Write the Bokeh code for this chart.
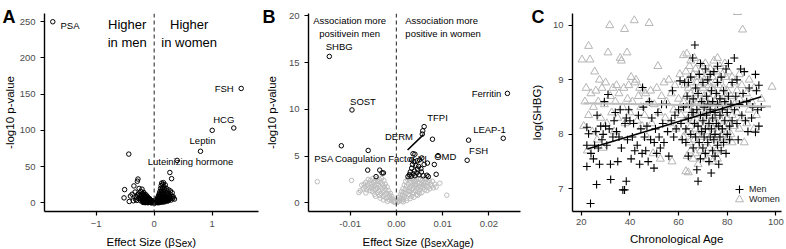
from bokeh.plotting import figure
from bokeh.layouts import row
from bokeh.models import Span, Range1d, FixedTicker, Legend, LegendItem, GridBox
from bokeh.embed import file_html
from bokeh.resources import INLINE
from bokeh.core.properties import value

FONT = "Liberation Sans"
TICK_COLOR = "#4d4d4d"

# ---------------- Panel A data ----------------
a_xticks = [-1, 0, 1]
a_yticks = [0, 50, 100, 150, 200, 250]
a_top_x = [-1.748, 1.50, 1.00, 1.372, 0.798, 0.396, -0.438]
a_top_y = [250, 158, 100.2, 103.4, 71.3, 58.7, 67.4]
a_cluster = [(-0.52, 7.0), (-0.51, 18.4), (-0.43, 2.0), (-0.41, 9.5), (-0.38, 12.0), (-0.35, 23.5),
             (-0.33, 15.0), (-0.31, 8.0), (-0.30, 3.5), (-0.29, 30.0), (-0.28, 33.0), (-0.27, 12.5),
             (-0.26, 20.0), (-0.25, 10.5), (-0.24, 5.5), (-0.23, 16.0), (-0.22, 8.5), (-0.21, 19.0),
             (-0.20, 13.0), (-0.20, 4.0), (-0.19, 7.0), (-0.18, 14.5), (-0.18, 10.0), (-0.17, 2.0),
             (-0.16, 12.0), (-0.16, 5.0), (-0.15, 8.5), (-0.14, 11.0), (-0.14, 3.0), (-0.13, 6.0),
             (-0.12, 9.0), (-0.12, 1.5), (-0.11, 4.0), (-0.10, 7.0), (-0.10, 2.0), (-0.09, 5.0),
             (-0.09, 0.8), (-0.08, 3.0), (-0.08, 6.0), (-0.07, 1.5), (-0.07, 4.0), (-0.06, 2.5),
             (-0.06, 0.5), (-0.05, 3.5), (-0.05, 1.0), (-0.04, 2.0), (-0.04, 0.3), (-0.03, 1.5),
             (-0.03, 3.0), (-0.02, 0.8), (-0.02, 2.0), (-0.01, 0.3), (-0.01, 1.2), (-0.015, 0.6),
             (-0.025, 1.0), (-0.035, 0.5), (-0.045, 1.5), (-0.055, 2.0), (-0.065, 3.0), (-0.075, 2.5),
             (-0.085, 1.5), (-0.095, 3.5), (-0.105, 5.5), (-0.115, 2.5), (-0.125, 4.5), (-0.135, 7.5),
             (-0.145, 5.0), (-0.155, 9.5), (-0.165, 3.5), (-0.175, 6.5), (-0.185, 11.5), (-0.195, 2.5),
             (-0.21, 6.0), (-0.225, 12.0), (-0.235, 3.0), (-0.245, 8.0), (-0.27, 6.0), (-0.29, 11.0),
             (-0.32, 5.0), (-0.36, 3.0),
             (-0.195, 0.8), (-0.185, 1.8), (-0.175, 0.6), (-0.165, 1.2), (-0.155, 2.6), (-0.15, 0.4),
             (-0.14, 1.8), (-0.13, 0.9), (-0.125, 2.8), (-0.115, 1.0), (-0.11, 0.4), (-0.105, 1.6),
             (-0.095, 0.6), (-0.085, 2.4), (-0.075, 0.9), (-0.065, 1.2), (-0.055, 0.4), (-0.045, 2.6),
             (-0.035, 1.6), (-0.025, 2.6), (-0.015, 1.8), (-0.005, 0.9),
             (0.005, 0.2), (0.01, 0.6), (0.01, 1.5), (0.015, 0.4), (0.02, 0.9), (0.02, 2.2),
             (0.025, 1.4), (0.03, 0.6), (0.03, 3.0), (0.035, 2.0), (0.04, 1.0), (0.04, 4.0),
             (0.045, 2.8), (0.05, 1.5), (0.05, 5.5), (0.055, 3.5), (0.06, 2.0), (0.06, 7.0),
             (0.065, 4.5), (0.07, 1.2), (0.07, 9.0), (0.075, 5.5), (0.08, 2.5), (0.08, 11.0),
             (0.085, 7.0), (0.09, 3.5), (0.09, 13.5), (0.095, 8.5), (0.10, 2.0), (0.10, 5.5),
             (0.10, 16.0), (0.105, 10.5), (0.11, 4.0), (0.11, 20.0), (0.115, 7.5), (0.12, 12.5),
             (0.12, 2.5), (0.12, 24.0), (0.125, 17.0), (0.13, 5.5), (0.13, 9.5), (0.13, 27.5),
             (0.135, 14.0), (0.14, 3.5), (0.14, 20.5), (0.145, 7.0), (0.15, 11.0), (0.15, 25.5),
             (0.155, 16.5), (0.16, 4.5), (0.16, 28.0), (0.165, 9.0), (0.17, 13.5), (0.17, 22.0),
             (0.175, 6.0), (0.18, 18.5), (0.185, 10.5), (0.19, 3.0), (0.19, 25.0), (0.20, 14.0),
             (0.20, 7.5), (0.21, 20.0), (0.215, 11.5), (0.22, 5.0), (0.225, 16.5), (0.23, 8.5),
             (0.24, 13.0), (0.245, 3.5), (0.25, 18.0), (0.26, 9.5), (0.27, 42.0), (0.275, 6.0),
             (0.28, 16.5), (0.29, 11.0), (0.30, 33.5), (0.31, 14.0), (0.32, 6.0), (0.35, 5.3),
             (0.33, 8.5), (0.26, 5.0), (0.23, 2.5), (0.18, 1.5), (0.14, 1.0), (0.085, 0.5), (0.065, 0.3),
             (0.005, 1.0), (0.015, 1.6), (0.025, 0.3), (0.035, 0.9), (0.045, 1.5), (0.055, 0.8),
             (0.065, 2.5), (0.075, 1.8), (0.085, 3.0), (0.095, 1.2), (0.105, 2.8), (0.115, 1.4),
             (0.125, 3.8), (0.135, 2.0), (0.145, 4.5), (0.155, 2.4), (0.165, 6.0), (0.175, 3.0),
             (0.185, 5.0), (0.195, 4.2), (0.205, 3.0), (0.215, 6.5), (0.225, 4.0), (0.235, 6.0),
             (0.25, 7.0), (0.27, 8.0), (0.29, 4.0), (0.31, 9.0)]
a_lab_text = ["PSA", "FSH", "HCG", "Leptin", "Luteinizing hormone"]
a_lab_x = [-1.616, 1.371, 1.20, 0.833, 0.626]
a_lab_y = [244.7, 157.3, 115.6, 86.3, 57.4]
a_lab_align = ["left", "right", "center", "center", "center"]
a_head_text = ["Higher", "in men", "Higher", "in women"]
a_head_x = [-0.466, -0.466, 0.603, 0.603]
a_head_y = [245.7, 221.6, 245.7, 221.6]

# ---------------- Panel B data ----------------
b_xticks = [-0.01, 0.0, 0.01, 0.02]
b_xlabels = {-0.01: "-0.01", 0.0: "0.00", 0.01: "0.01", 0.02: "0.02"}
b_yticks = [0, 5, 10, 15, 20]
b_black = [(-0.0145, 15.65), (-0.0096, 9.93), (-0.0119, 6.1), (-0.0061, 5.6), (-0.0062, 3.5),
           (-0.0044, 2.8), (-0.0036, 3.5), (-0.0031, 3.2), (-0.0028, 3.2),
           (0.024, 11.7), (0.0231, 6.9), (0.0156, 6.7), (0.0153, 4.55), (0.006, 8.15), (0.0057, 7.7),
           (0.0056, 7.35), (0.0078, 6.8), (0.009, 5.05), (0.0086, 3.05), (0.0082, 4.1), (0.0067, 4.25),
           (0.0066, 2.95), (0.0069, 2.8), (0.0036, 5.25), (0.0040, 5.2), (0.0033, 4.6), (0.0038, 4.4),
           (0.0045, 4.5), (0.0050, 4.6), (0.0035, 4.1), (0.0042, 4.0), (0.0048, 3.9), (0.0033, 3.7),
           (0.0046, 3.6), (0.0053, 3.65), (0.0028, 3.0), (0.0032, 2.85), (0.0036, 3.1), (0.0040, 2.9),
           (0.0044, 3.2), (0.0049, 3.0), (0.0054, 3.3), (0.0058, 2.9), (0.0025, 2.8), (0.0030, 3.3),
           (0.0039, 3.4), (0.0055, 4.8), (0.0060, 4.1)]
b_grey = [(-0.0171, 2.26), (-0.0097, 2.4), (-0.0081, 1.1), (-0.0066, 1.06), (0.0094, 2.1), (0.0109, 0.82),
          (-0.0002, 0.05), (-0.0004, 0.2), (-0.0006, 0.1), (-0.0008, 0.4), (-0.0010, 0.25), (-0.0010, 0.7),
          (-0.0012, 0.5), (-0.0013, 1.0), (-0.0015, 0.3), (-0.0015, 0.8), (-0.0017, 1.3), (-0.0018, 0.6),
          (-0.0020, 1.0), (-0.0020, 1.7), (-0.0022, 0.45), (-0.0023, 1.4), (-0.0024, 2.0), (-0.0025, 0.9),
          (-0.0026, 1.7), (-0.0027, 2.4), (-0.0028, 1.2), (-0.0029, 0.7), (-0.0030, 2.0), (-0.0031, 1.5),
          (-0.0032, 2.6), (-0.0033, 1.0), (-0.0034, 2.2), (-0.0035, 1.7), (-0.0036, 0.8), (-0.0037, 2.5),
          (-0.0038, 1.3), (-0.0039, 1.9), (-0.0040, 2.3), (-0.0041, 1.1), (-0.0042, 1.6), (-0.0043, 2.6),
          (-0.0044, 2.0), (-0.0045, 1.4), (-0.0046, 2.4), (-0.0047, 0.9), (-0.0048, 1.8), (-0.0049, 2.2),
          (-0.0050, 1.5), (-0.0051, 2.6), (-0.0052, 1.2), (-0.0053, 2.0), (-0.0054, 1.7), (-0.0056, 2.4),
          (-0.0057, 1.3), (-0.0058, 2.1), (-0.0060, 1.6), (-0.0061, 2.5), (-0.0063, 1.9), (-0.0064, 1.4),
          (-0.0066, 2.2), (-0.0068, 1.7), (-0.0070, 2.0), (-0.0072, 1.5), (-0.0075, 1.9), (-0.0078, 1.3),
          (-0.0019, 0.15), (-0.0028, 0.3), (-0.0035, 0.5), (-0.0045, 0.7),
          (0.0002, 0.05), (0.0003, 0.3), (0.0005, 0.15), (0.0006, 0.6), (0.0008, 0.3), (0.0009, 0.9),
          (0.0010, 0.5), (0.0011, 1.2), (0.0012, 0.2), (0.0013, 0.8), (0.0014, 1.5), (0.0015, 0.4),
          (0.0016, 1.1), (0.0017, 1.9), (0.0018, 0.7), (0.0019, 1.4), (0.0020, 2.3), (0.0021, 1.0),
          (0.0022, 1.8), (0.0023, 0.5), (0.0024, 2.5), (0.0025, 1.3), (0.0026, 2.0), (0.0027, 0.9),
          (0.0028, 1.6), (0.0029, 2.6), (0.0030, 1.2), (0.0031, 2.2), (0.0032, 1.8), (0.0033, 0.7),
          (0.0034, 2.5), (0.0035, 1.5), (0.0036, 2.0), (0.0037, 1.1), (0.0038, 2.6), (0.0039, 1.7),
          (0.0040, 2.3), (0.0041, 1.3), (0.0042, 1.9), (0.0043, 2.5), (0.0044, 0.9), (0.0045, 1.6),
          (0.0046, 2.2), (0.0047, 1.2), (0.0048, 2.6), (0.0049, 1.8), (0.0050, 2.1), (0.0051, 1.4),
          (0.0052, 2.5), (0.0053, 1.7), (0.0054, 2.0), (0.0055, 1.1), (0.0056, 2.4), (0.0057, 1.6),
          (0.0058, 2.2), (0.0059, 1.9), (0.0060, 2.6), (0.0061, 1.4), (0.0062, 2.1), (0.0064, 1.8),
          (0.0065, 2.5), (0.0066, 1.3), (0.0068, 2.2), (0.0069, 1.7), (0.0071, 2.4), (0.0072, 1.5),
          (0.0074, 2.0), (0.0076, 1.8), (0.0078, 2.3), (0.0080, 1.6), (0.0083, 2.0), (0.0086, 1.7),
          (0.0015, 0.1), (0.0022, 0.25), (0.0030, 0.45), (0.0038, 0.6), (0.0046, 0.8), (0.0027, 1.25),
          (0.0035, 0.95), (0.0041, 2.0), (0.0050, 1.0)]
b_lab_text = ["SHBG", "SOST", "PSA", "Coagulation Factor XI", "DERM", "TFPI", "Ferritin", "LEAP-1", "FSH", "OMD"]
b_lab_x = [-0.01236, -0.00722, -0.01571, -0.00336, 0.00056, 0.0089, 0.01949, 0.02013, 0.01777, 0.01056]
b_lab_y = [16.72, 10.86, 4.76, 4.76, 7.06, 9.12, 11.69, 7.84, 5.62, 4.93]
b_head_text = ["Association more", "positivein men", "Association more", "positive in women"]
b_head_x = [-0.0101, -0.0101, 0.00977, 0.0101]
b_head_y = [19.45, 18.15, 19.45, 18.15]
b_seg = dict(x0=[0.00242], y0=[5.65], x1=[0.00585], y1=[7.29])

# ---------------- Panel C data ----------------
c_xticks = [20, 40, 60, 80, 100]
c_yticks = [7, 8, 9, 10]
c_men_young = [(22.3, 7.41), (23.8, 6.73), (22.3, 7.80), (23, 8.01), (22.3, 8.13), (26.3, 7.08), (24, 7.65),
               (25, 7.55), (25.5, 7.80), (26, 8.05), (26.5, 8.35), (27.5, 7.45), (27, 7.75), (28, 8.15),
               (28.5, 7.90), (29, 8.00), (29.5, 8.60), (30, 8.15), (30.5, 7.80), (31, 8.73), (31.5, 8.10),
               (32, 7.45), (32.1, 7.17), (33, 7.95), (33.5, 8.25), (34, 8.40), (34.5, 8.05), (35, 7.50),
               (35.5, 7.95), (36, 8.45), (36.5, 7.75), (37.1, 6.98), (37.8, 6.98), (38.5, 7.14), (38, 8.20),
               (38.5, 8.30), (39, 7.90), (39.5, 8.45), (40, 8.25), (40.5, 7.55), (41, 7.95), (41.5, 8.20),
               (42, 7.70), (43, 7.80), (43.5, 8.35), (44, 7.45), (44.5, 8.10), (45, 7.65), (45.2, 8.86),
               (45.5, 8.50), (46, 7.95), (46.5, 7.70), (47, 8.15), (47.5, 7.50), (48, 8.60), (48.5, 7.90),
               (49, 8.30), (49.9, 7.38), (50, 7.85), (50.5, 8.10), (51, 7.65), (51.5, 8.40), (52, 7.95),
               (52.5, 7.75), (53, 8.55), (53.5, 8.20), (54, 7.85), (55, 8.55), (55.5, 8.05), (56, 7.60),
               (57, 8.25), (57.5, 8.80), (58, 7.95), (58.5, 8.35), (59, 8.10), (60, 8.45), (60.6, 8.98),
               (61, 8.20), (61.5, 7.90)]
c_men_old = [(62, 8.50), (62.5, 8.95), (63, 8.10), (63, 7.85), (63.5, 8.70), (64, 8.30), (64, 7.60), (64.5, 8.55),
             (65, 8.00), (65, 9.05), (65.5, 8.40), (65.8, 9.40), (66, 7.75), (66, 8.65), (66.5, 8.20), (66.7, 9.64),
             (67, 7.95), (67, 8.85), (67.5, 8.45), (67.5, 7.35), (68, 7.14), (68, 8.15), (68, 8.75), (68.5, 7.85),
             (68.5, 9.10), (69, 8.35), (69, 7.55), (69.5, 8.60), (69.5, 8.05), (70, 7.75), (70, 8.95), (70, 8.25),
             (70.5, 8.50), (70.5, 7.95), (71, 9.20), (71, 8.10), (71, 7.65), (71.5, 8.70), (71.5, 8.35), (72, 7.85),
             (72, 8.55), (72, 9.00), (72.5, 8.20), (72.5, 7.50), (73, 8.45), (73, 7.95), (73.4, 7.29), (73.5, 8.80),
             (73.5, 8.10), (74, 7.70), (74, 8.60), (74, 8.30), (74.5, 9.15), (74.5, 7.90), (75, 8.40), (75, 8.00),
             (75, 7.60), (75.5, 8.75), (75.5, 8.20), (76, 7.80), (76, 8.55), (76, 8.95), (76.5, 8.15), (76.5, 7.45),
             (77, 8.65), (77, 8.35), (77, 7.95), (77.5, 9.05), (77.5, 7.70), (78, 8.45), (78, 8.10), (78.5, 8.80),
             (78.5, 7.85), (79, 8.25), (79, 8.60), (79.5, 9.20), (79.5, 7.65), (80, 8.40), (80, 8.00), (80.5, 8.70),
             (80.5, 9.30), (81, 8.15), (81, 7.90), (81.5, 8.55), (82, 8.95), (82, 8.25), (82.9, 9.40), (83, 8.45),
             (83.5, 8.70), (84, 9.00), (84, 8.20), (84.5, 7.90), (85, 8.55), (85.5, 9.20), (86, 8.35), (86.5, 8.75),
             (87, 9.15), (87.5, 8.25), (88, 8.60), (88.5, 8.05), (89, 8.85), (90, 8.30), (90.5, 8.50), (91.6, 9.10),
             (91.6, 8.04), (92, 8.80), (92.5, 8.45), (93, 8.15), (94, 8.50), (93, 8.90), (64, 8.95), (66, 8.40),
             (69, 9.30), (73, 9.10), (76, 9.25)]
c_women_young = [(20.3, 9.37), (21, 8.15), (21.5, 8.60), (22, 8.85), (22.5, 7.70), (23, 9.62), (23.6, 9.37),
                 (23, 8.35), (24, 8.75), (24.5, 8.05), (25, 8.50), (25.5, 9.15), (26, 8.80), (26.5, 7.90),
                 (27, 8.60), (27.5, 9.00), (28, 8.30), (28.5, 8.85), (29, 7.75), (29.5, 8.55), (30, 8.95),
                 (30.5, 8.20), (31, 9.50), (31.7, 10.0), (32, 8.70), (32.5, 8.40), (33, 8.85), (33.5, 8.05),
                 (34, 8.60), (34.5, 8.90), (35, 8.30), (35.5, 8.75), (36, 9.40), (36.5, 9.35), (37, 8.50),
                 (37.5, 8.85), (37.8, 9.93), (38, 8.20), (38.8, 9.50), (39, 8.65), (39.5, 8.90), (40, 8.40),
                 (40.5, 9.05), (41, 8.60), (41.8, 10.09), (42, 8.95), (42.5, 9.00), (43, 8.25), (43.5, 8.70),
                 (44, 8.85), (44.5, 8.50), (45, 8.15), (45.5, 8.80), (46, 8.35), (46.5, 8.75), (47, 7.95),
                 (47.9, 10.04), (48, 8.60), (48.5, 8.80), (49, 8.20), (49.5, 7.65), (50, 8.55), (51, 8.85),
                 (51.5, 9.25), (52, 8.40), (52.5, 7.55), (53, 8.70), (54, 8.95), (54.5, 8.30), (55, 8.60),
                 (56, 9.00), (56.5, 8.20), (57, 8.75), (57.3, 7.50), (58, 8.45), (58.5, 8.90), (59, 8.10),
                 (60, 8.65), (60.5, 9.10), (61, 8.35)]
c_women_old = [(62, 8.60), (62, 9.45), (62, 7.95), (62.5, 8.25), (62.5, 8.90), (63, 7.32), (63, 8.70), (63, 9.15),
               (63.4, 9.48), (63.5, 8.05), (63.5, 8.45), (63.5, 7.60), (64, 7.30), (64, 8.85), (64, 8.30), (64, 9.00),
               (64.5, 8.55), (64.5, 7.85), (64.5, 9.25), (65, 8.15), (65, 8.75), (65, 7.70), (65, 9.35), (65.5, 8.40),
               (65.5, 8.95), (65.5, 8.00), (66, 7.55), (66, 8.65), (66, 9.10), (66, 8.25), (66.5, 8.50), (66.5, 7.90),
               (66.5, 9.40), (67, 8.80), (67, 8.10), (67, 7.65), (67, 9.20), (67.5, 8.35), (67.5, 8.95), (67.5, 7.80),
               (68, 8.60), (68, 9.05), (68, 8.00), (68, 7.45), (68.5, 8.20), (68.5, 8.75), (68.5, 9.30), (69, 7.70),
               (69, 8.45), (69, 8.90), (69, 9.15), (69.5, 8.05), (69.5, 8.60), (69.5, 7.95), (70, 8.30), (70, 8.85),
               (70, 9.25), (70, 7.60), (70, 8.50), (70.5, 8.15), (70.5, 8.70), (70.5, 9.00), (71, 7.85), (71, 8.40),
               (71, 8.95), (71, 9.30), (71.5, 8.25), (71.5, 8.60), (71.5, 7.55), (72, 8.05), (72, 8.75), (72, 9.10),
               (72, 8.45), (72.5, 7.75), (72.5, 8.55), (72.5, 8.90), (73, 8.20), (73, 8.65), (73, 9.20), (73, 7.95),
               (73.5, 8.40), (73.5, 8.85), (73.5, 7.65), (74, 8.10), (74, 8.50), (74, 9.05), (74, 7.50), (74.5, 8.30),
               (74.5, 8.80), (74.5, 9.35), (75, 7.90), (75, 8.60), (75, 8.95), (75, 8.20), (75.5, 8.45), (75.5, 7.70),
               (75.5, 9.15), (76, 8.05), (76, 8.70), (76, 9.40), (76, 7.55), (76.5, 8.35), (76.5, 8.90), (76.5, 8.15),
               (77, 7.80), (77, 8.55), (77, 9.25), (77, 9.00), (77.5, 8.25), (77.5, 8.75), (77.5, 7.95), (78, 8.60),
               (78, 9.10), (78, 8.00), (78.5, 8.40), (78.5, 8.85), (78.5, 7.85), (79, 8.15), (79, 8.70), (79, 9.30),
               (79.5, 8.50), (79.5, 7.90), (79.5, 9.05), (80, 8.30), (80, 8.80), (80, 8.05), (80.5, 8.60), (80.5, 9.15),
               (80.5, 7.95), (81, 8.20), (81, 8.90), (81, 8.45), (81.5, 8.70), (81.5, 8.00), (82, 8.35), (82, 9.05),
               (82, 7.85), (83, 8.55), (83, 8.95), (83, 8.15), (84, 8.40), (84, 8.80), (84.2, 10.24), (85, 8.65),
               (85, 8.10), (85, 9.10), (86, 8.30), (86, 8.90), (86.3, 9.92), (87, 8.55), (87, 7.85), (88, 8.75),
               (88, 8.20), (89, 8.45), (89, 9.00), (90, 8.60), (91, 8.10), (91, 8.85), (92, 8.35), (94, 8.65),
               (98.4, 8.87)]
c_men_fit_age = [22.5, 94]
c_men_fit_val = [7.73, 8.69]
c_women_fit_age = [21, 98]
c_women_fit_val = [8.57, 8.51]

# texts that sit outside the plot frames (panel letters, x titles with subscripts)
ov_letters = ["A", "B", "C"]
ov_letter_x = [2, 262, 531]
ov_main_text = ["Effect Size (β", ")", "Effect Size (β", ")"]
ov_main_x = [106, 191.8, 362, 469.5]
ov_sub_text = ["Sex", "sexXage"]
ov_sub_x = [174.6, 430.6]


def xs(pts):
    return [p[0] for p in pts]


def ys(pts):
    return [p[1] for p in pts]


def make_fig(xr, yr, bl, br, bt, bb):
    p = figure(width=262, height=249, x_range=Range1d(*xr), y_range=Range1d(*yr),
               min_border_left=bl, min_border_right=br, min_border_top=bt, min_border_bottom=bb,
               output_backend="svg", toolbar_location=None)
    p.xgrid.visible = False
    p.ygrid.visible = False
    p.outline_line_color = None
    return p


def style(p, xticks, yticks, ytitle, ystandoff, xstandoff=5):
    for ax in (p.xaxis[0], p.yaxis[0]):
        ax.axis_line_color = "black"
        ax.axis_line_width = 1.4
        ax.major_tick_line_color = "black"
        ax.major_tick_line_width = 1.2
        ax.major_tick_out = 4
        ax.major_tick_in = 0
        ax.minor_tick_line_color = None
        ax.major_label_text_font = FONT
        ax.major_label_text_font_size = "9.5px"
        ax.major_label_text_color = TICK_COLOR
    p.xaxis.ticker = FixedTicker(ticks=xticks)
    p.yaxis.ticker = FixedTicker(ticks=yticks)
    p.xaxis.major_label_standoff = xstandoff
    p.yaxis.major_label_standoff = 5
    p.yaxis.axis_label = ytitle
    p.yaxis.axis_label_text_font = FONT
    p.yaxis.axis_label_text_font_size = "11.5px"
    p.yaxis.axis_label_text_font_style = "normal"
    p.yaxis.axis_label_text_color = "black"
    p.yaxis.axis_label_standoff = ystandoff


def texts(p, x, y, t, align, size="9.5px", color="black"):
    groups = {}
    for xi, yi, ti, ai in zip(x, y, t, align):
        groups.setdefault(ai, ([], [], []))
        groups[ai][0].append(xi)
        groups[ai][1].append(yi)
        groups[ai][2].append(ti)
    for ai, (gx, gy, gt) in groups.items():
        p.text(x=gx, y=gy, text=gt, text_font=value(FONT), text_font_size=size,
               text_align=ai, text_baseline="middle", text_color=color)


# ---------------- Panel A ----------------
pA = make_fig((-1.891, 1.798), (-11.8, 261.4), 44, 4, 4, 37)
style(pA, a_xticks, a_yticks, "-log10 p-value", 1)
pA.add_layout(Span(location=0, dimension="height", line_color="#444444", line_dash="4 3", line_width=1.2))
texts(pA, a_head_x, a_head_y, a_head_text, ["center"] * 4, size="13px")
texts(pA, a_lab_x, a_lab_y, a_lab_text, a_lab_align)
pA.scatter(xs(a_cluster), ys(a_cluster), marker="circle", size=4.5, fill_color=None,
           line_color="black", line_width=1.0)
pA.scatter(a_top_x, a_top_y, marker="circle", size=4.5, fill_color=None, line_color="black", line_width=1.0)

# ---------------- Panel B ----------------
pB = make_fig((-0.019, 0.02683), (-0.925, 20.24), 44, 4, 5, 38)
style(pB, b_xticks, b_yticks, "-log10 p-value", 8)
pB.xaxis.major_label_overrides = b_xlabels
pB.add_layout(Span(location=0, dimension="height", line_color="#444444", line_dash="4 3", line_width=1.2))
pB.scatter(xs(b_grey), ys(b_grey), marker="circle", size=4.5, fill_color=None,
           line_color="#bdbdbd", line_width=1.0)
texts(pB, b_head_x, b_head_y, b_head_text, ["center"] * 4)
texts(pB, b_lab_x, b_lab_y, b_lab_text, ["center"] * len(b_lab_text))
pB.segment(x0=b_seg["x0"], y0=b_seg["y0"], x1=b_seg["x1"], y1=b_seg["y1"], line_color="black", line_width=1.6)
pB.scatter(xs(b_black), ys(b_black), marker="circle", size=4.5, fill_color=None,
           line_color="black", line_width=1.0)

# ---------------- Panel C ----------------
pC = make_fig((16.4, 102.3), (6.584, 10.217), 48, 5, 13, 35)
style(pC, c_xticks, c_yticks, "log(SHBG)", 7, xstandoff=3)
pC.xaxis.axis_label = "Chronological Age"
pC.xaxis.axis_label_text_font = FONT
pC.xaxis.axis_label_text_font_size = "11.5px"
pC.xaxis.axis_label_text_font_style = "normal"
pC.xaxis.axis_label_text_color = "black"
pC.xaxis.axis_label_standoff = 5
w_r = pC.scatter(xs(c_women_young) + xs(c_women_old), ys(c_women_young) + ys(c_women_old),
                 marker="triangle", size=8, fill_color=None, line_color="#b5b5b5", line_width=1.0)
m_r = pC.scatter(xs(c_men_young) + xs(c_men_old), ys(c_men_young) + ys(c_men_old),
                 marker="cross", size=8, line_color="black", line_width=1.1)
pC.line(c_women_fit_age, c_women_fit_val, line_color="#bdbdbd", line_width=2)
pC.line(c_men_fit_age, c_men_fit_val, line_color="black", line_width=1.5)
for item, loc in ((LegendItem(label="Men", renderers=[m_r]), (157, 12.3)),
                  (LegendItem(label="Women", renderers=[w_r]), (157, 1.7))):
    leg = Legend(items=[item], location=loc, background_fill_alpha=0, border_line_color=None,
                 label_text_font=FONT, label_text_font_size="9px", label_text_color="#222222",
                 glyph_width=20, glyph_height=20, label_height=20, label_standoff=0,
                 padding=0, margin=0, spacing=0)
    pC.add_layout(leg)

# ---------------- overlay for texts outside the frames ----------------
ov = figure(width=786, height=249, x_range=Range1d(0, 786), y_range=Range1d(249, 0),
            x_axis_type=None, y_axis_type=None, min_border=0,
            output_backend="svg", toolbar_location=None)
ov.min_border_left = ov.min_border_right = ov.min_border_top = ov.min_border_bottom = 0
ov.background_fill_alpha = 0
ov.border_fill_alpha = 0
ov.outline_line_color = None
for g in ov.grid:
    g.visible = False
ov.text(x=ov_letter_x, y=[16] * 3, text=ov_letters, text_font=value(FONT), text_font_size="18px",
        text_font_style="bold", text_baseline="alphabetic", text_align="left", text_color="black")
ov.text(x=ov_main_x, y=[241] * 4, text=ov_main_text, text_font=value(FONT), text_font_size="11.5px",
        text_baseline="alphabetic", text_align="left", text_color="black")
ov.text(x=ov_sub_x, y=[243.2] * 2, text=ov_sub_text, text_font=value(FONT), text_font_size="10px",
        text_baseline="alphabetic", text_align="left", text_color="black")

main = row(pA, pB, pC)
layout = GridBox(children=[(main, 0, 0), (ov, 0, 0)])
open("out.html", "w").write(file_html(layout, INLINE))
